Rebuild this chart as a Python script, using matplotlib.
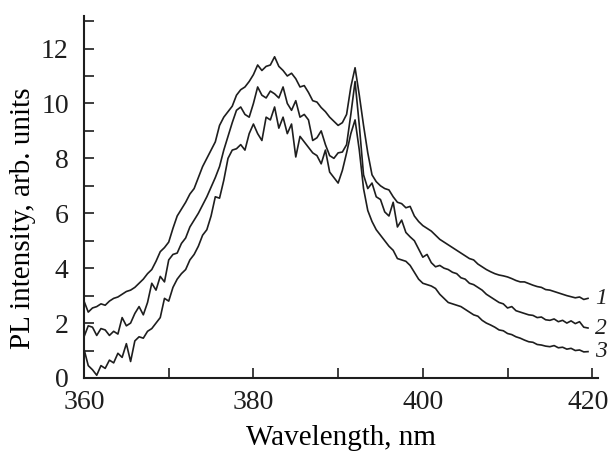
import numpy as np
import matplotlib
matplotlib.use("Agg")
import matplotlib.pyplot as plt
from matplotlib.ticker import MultipleLocator
from matplotlib.transforms import ScaledTranslation

plt.rcParams["font.family"] = ["Liberation Serif", "DejaVu Serif"]

# wavelength grid, nm (0.5 nm steps, 360 .. 419.5)
wavelength = np.arange(360.0, 420.0, 0.5)

# curve 1 (top)
pl_1 = [2.8, 2.4, 2.55, 2.6, 2.7, 2.65, 2.8, 2.9, 2.95, 3.05,
        3.15, 3.2, 3.3, 3.45, 3.6, 3.8, 3.95, 4.25, 4.6, 4.75,
        4.95, 5.45, 5.9, 6.15, 6.4, 6.7, 6.9, 7.3, 7.7, 8.0,
        8.3, 8.6, 9.2, 9.5, 9.7, 9.9, 10.3, 10.5, 10.6, 10.8,
        11.05, 11.4, 11.2, 11.35, 11.4, 11.7, 11.35, 11.2, 11.0, 11.1,
        10.9, 10.6, 10.65, 10.4, 10.1, 10.05, 9.85, 9.7, 9.5, 9.35,
        9.2, 9.3, 9.6, 10.6, 11.3, 10.3, 9.2, 8.2, 7.4, 7.15,
        7.0, 6.9, 6.85, 6.6, 6.4, 6.35, 6.2, 6.25, 5.9, 5.7,
        5.55, 5.45, 5.35, 5.2, 5.05, 4.95, 4.85, 4.75, 4.65, 4.55,
        4.45, 4.35, 4.3, 4.15, 4.05, 3.95, 3.87, 3.8, 3.75, 3.72,
        3.68, 3.62, 3.55, 3.5, 3.5, 3.44, 3.38, 3.33, 3.3, 3.22,
        3.2, 3.15, 3.1, 3.05, 3.0, 2.96, 2.92, 2.95, 2.86, 2.9]

# curve 2 (middle)
pl_2 = [1.5, 1.9, 1.85, 1.55, 1.8, 1.75, 1.55, 1.7, 1.6, 2.2,
        1.9, 2.0, 2.35, 2.6, 2.3, 2.75, 3.45, 3.2, 3.7, 3.5,
        4.3, 4.5, 4.55, 4.9, 5.1, 5.5, 5.75, 6.0, 6.3, 6.6,
        6.95, 7.3, 7.7, 8.3, 8.8, 9.3, 9.75, 9.87, 9.6, 9.5,
        10.0, 10.6, 10.3, 10.2, 10.45, 10.35, 10.2, 10.6, 10.0, 9.75,
        10.1, 9.5, 9.6, 9.4, 8.65, 8.75, 9.0, 8.5, 8.1, 8.0,
        8.2, 8.23, 8.5, 9.6, 10.8, 9.2, 7.4, 6.9, 7.1, 6.6,
        6.5, 6.05, 5.9, 6.4, 5.5, 5.75, 5.3, 5.14, 5.0, 4.7,
        4.4, 4.5, 4.2, 4.05, 4.1, 4.0, 3.95, 3.85, 3.8, 3.65,
        3.6, 3.45, 3.4, 3.3, 3.2, 3.05, 2.95, 2.85, 2.75, 2.7,
        2.55, 2.6, 2.45, 2.4, 2.35, 2.3, 2.28, 2.2, 2.22, 2.12,
        2.1, 2.15, 2.05, 2.1, 2.0, 2.08, 1.98, 2.05, 1.85, 1.82]

# curve 3 (bottom)
pl_3 = [1.05, 0.45, 0.3, 0.1, 0.45, 0.35, 0.65, 0.55, 0.9, 0.75,
        1.25, 0.6, 1.35, 1.5, 1.45, 1.7, 1.8, 2.0, 2.2, 2.9,
        2.8, 3.3, 3.6, 3.8, 3.95, 4.3, 4.5, 4.8, 5.2, 5.4,
        5.9, 6.6, 6.55, 7.2, 8.0, 8.3, 8.35, 8.5, 8.3, 8.9,
        9.25, 8.9, 8.65, 9.5, 9.4, 9.87, 9.1, 9.5, 8.9, 9.25,
        8.05, 8.8, 8.6, 8.4, 8.2, 8.1, 7.8, 8.3, 7.5, 7.3,
        7.1, 7.56, 8.2, 8.9, 9.4, 8.3, 6.9, 6.1, 5.7, 5.4,
        5.2, 5.0, 4.8, 4.65, 4.35, 4.3, 4.25, 4.1, 3.85, 3.6,
        3.45, 3.4, 3.35, 3.26, 3.05, 2.9, 2.75, 2.7, 2.65, 2.6,
        2.5, 2.4, 2.3, 2.25, 2.1, 2.0, 1.93, 1.85, 1.75, 1.72,
        1.62, 1.58, 1.5, 1.45, 1.38, 1.32, 1.3, 1.22, 1.2, 1.16,
        1.14, 1.18, 1.1, 1.12, 1.05, 1.08, 1.0, 1.02, 0.95, 0.96]

x_ticks = [360, 380, 400, 420]
curves = [("1", pl_1), ("2", pl_2), ("3", pl_3)]

fig = plt.figure(figsize=(6.11, 4.53), dpi=100)
ax = fig.add_axes([0.1375, 0.1656, 0.8415, 0.80])

for label, vals in curves:
    ax.plot(wavelength, vals, color="#1e1e1e", lw=1.2)
    ax.annotate(label, xy=(wavelength[-1], vals[-1]), xytext=(5, 0),
                textcoords="offset points", va="center", ha="left",
                fontsize=17, style="italic", color="#1e1e1e")

ax.set_xlim(360, 420.7)
ax.set_ylim(0, 13.2)
ax.set_xticks(x_ticks)
ax.xaxis.set_minor_locator(MultipleLocator(10))
ax.yaxis.set_major_locator(MultipleLocator(2))
ax.yaxis.set_minor_locator(MultipleLocator(1))
ax.tick_params(which="both", direction="in", length=7, width=1.2,
               labelsize=20, colors="#1e1e1e")
ax.tick_params(axis="x", pad=9)
ax.tick_params(axis="y", pad=11)
for side in ("top", "right"):
    ax.spines[side].set_visible(False)
for side in ("left", "bottom"):
    ax.spines[side].set_linewidth(1.5)
    ax.spines[side].set_color("#1e1e1e")

# nudge the last x label so it stays inside the figure
last = ax.get_xticklabels()[-1]
last.set_transform(last.get_transform()
                   + ScaledTranslation(-3 / 72, 0, fig.dpi_scale_trans))

ax.set_xlabel("Wavelength, nm", fontsize=21)
ax.set_ylabel("PL intensity, arb. units", fontsize=21)
ax.xaxis.set_label_coords(0.5, -0.13)
ax.yaxis.set_label_coords(-0.093, 0.44)

fig.savefig("out.png", dpi=100)
